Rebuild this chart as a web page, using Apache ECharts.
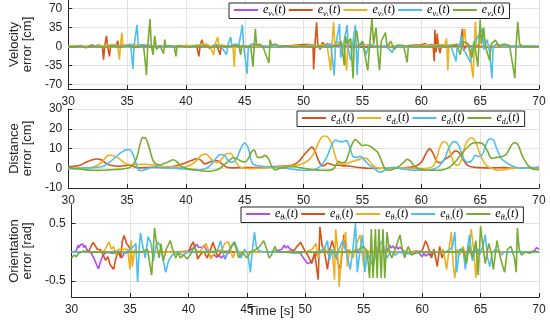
<!DOCTYPE html>
<html><head><meta charset="utf-8">
<script src="https://cdn.jsdelivr.net/npm/echarts@6/dist/echarts.min.js"></script>
<style>html,body{margin:0;padding:0;background:#fff}#c{width:550px;height:324px}</style>
</head><body><div id="c"></div>
<script>
// ---------- DATA ----------
const xTicks = [30, 35, 40, 45, 50, 55, 60, 65, 70];
const velTicks = [-70, -35, 0, 35, 70];
const distTicks = [-10, 0, 10, 20, 30];
const oriTicks = [-0.5, 0.5];

// Velocity error [cm] : [time, value]
const vel0 = [[30,0],[32,-0.5],[35,0.5],[38,0],[42,-0.5],[46,0.5],[50,0],[54,0.5],[58,-0.5],[62,0],[66,0.5],[70,0]];
const vel1 = [[30,0.5],[30.5,-1],[31,2],[31.5,-0.5],[32,3],[32.3,1],[32.6,3],[32.9,0],[33.0,-24],[33.1,2],[33.25,20],[33.35,0],[33.5,-18],[33.6,1],[33.9,3],[34.1,2],[34.2,11],[34.3,-2],[34.5,3],[35,2],[35.5,-1],[36,0.5],[36.5,1],[37,-0.5],[37.5,0],[38,1],[38.5,-0.5],[39,0],[39.5,1],[40,2],[40.5,1],[40.9,2],[41.1,-18],[41.2,0],[41.35,13],[41.5,2],[41.8,4],[42,-3],[42.3,2],[42.6,4],[42.9,-15],[43.0,2],[43.3,0],[43.6,1],[44,0.5],[45,0],[45.5,-1],[46,0.5],[47,-1],[48,0],[48.5,1],[49,2],[49.5,3],[50,4],[50.5,4],[50.8,3],[50.85,-42],[50.95,0],[51.1,45],[51.2,5],[51.4,-5],[51.6,8],[51.8,3],[52,5],[52.5,2],[53,3],[53.5,1],[54,0],[55,-1],[56,0],[57,0.5],[58,0],[59,2],[59.5,3],[60,3],[60.3,6],[60.5,2],[60.8,4],[61.0,3],[61.1,-27],[61.15,31],[61.25,-10],[61.35,24],[61.45,0],[61.6,-12],[61.7,2],[62,3],[62.5,2],[63,2],[63.3,4],[63.5,33],[63.6,-8],[63.8,2],[64,1],[64.5,0.5],[65,0],[66,-1],[67,0.5],[68,0],[69,-1],[70,0]];
const vel2 = [[30,1],[30.5,2],[31,0],[31.5,1],[32,0],[32.5,2],[33,1],[33.5,3],[34,4],[34.2,2],[34.35,-24],[34.45,5],[34.55,26],[34.65,2],[34.8,5],[35,3],[35.5,4],[36,2],[36.5,3],[37,2],[37.5,1],[38,2],[38.5,0],[39,1],[39.5,2],[40,1],[40.5,2],[41,3],[41.5,5],[41.8,4],[42,2],[42.35,-15],[42.45,2],[42.7,18],[42.8,2],[43,3],[43.5,1],[44.0,2],[44.1,-37],[44.2,0],[44.5,2],[45,1],[45.5,0],[46,1],[46.5,0],[47,1],[48,0],[49,1],[49.5,2],[50,1],[50.5,3],[51,2],[51.5,3],[52,2],[52.3,-44],[52.4,3],[52.55,45],[52.65,4],[52.9,10],[53.1,0],[53.4,5],[53.65,-44],[53.75,3],[54,6],[54.5,3],[55,5],[55.5,3],[56,2],[57,1],[58,0],[59,1],[60,2],[60.5,3],[61,2],[61.5,4],[62,3],[62.15,15],[62.25,-44],[62.35,2],[62.6,4],[63,3],[63.5,2],[63.7,33],[63.8,2],[64,5],[64.4,-57],[64.5,0],[64.6,46],[64.7,3],[65,2],[65.5,1],[66,0],[67,1],[68,0],[69,0.5],[70,0]];
const vel3 = [[30,-1],[30.5,0],[31,1],[31.5,-1],[32,0],[32.5,1],[33,-1],[33.5,0],[34,1],[34.5,0],[35,2],[35.3,5],[35.5,-41],[35.6,3],[35.85,40],[35.95,2],[36.2,4],[36.5,3],[37,1],[37.5,0],[38,1],[38.5,-1],[39,0],[39.5,1],[40,-1],[40.5,0],[41,1],[41.5,0],[42,-1],[42.5,2],[43,0],[43.45,-15],[43.55,2],[43.8,18],[43.9,2],[44.2,5],[44.5,3],[44.8,40],[44.9,2],[45.2,-50],[45.3,0],[45.6,5],[46,3],[46.5,1],[47,0],[47.5,-1],[48,0],[48.5,1],[49,0],[50,-1],[50.5,1],[51,0],[51.5,-2],[52,3],[52.3,5],[52.6,-53],[52.7,0],[53.05,42],[53.15,-20],[53.4,5],[53.7,40],[53.8,-5],[54,-25],[54.2,10],[54.4,40],[54.55,-52],[54.65,-5],[55,10],[55.3,-15],[55.6,5],[56,2],[56.5,0],[57,1],[57.55,-11],[57.7,1],[58,0],[58.5,-1],[59,0],[60,-1],[60.5,1],[61,0],[61.5,-1],[62,0],[62.5,2],[62.95,-27],[63.05,2],[63.3,5],[63.4,22],[63.5,0],[64.2,-30],[64.3,0],[64.6,10],[65.2,33],[65.3,-5],[65.6,13],[65.8,-10],[66.0,-58],[66.1,0],[66.4,5],[66.8,2],[67,0],[67.5,-1],[68,1],[68.5,0],[69,-1],[69.5,2],[70,0]];
const vel4 = [[30,1],[30.5,-1],[31,0.5],[31.5,-2],[32,1],[32.5,0],[33,-1],[33.5,1],[34,0],[34.5,-1],[35,1],[35.5,0],[36,-1],[36.4,2],[36.65,-52],[36.75,0],[36.95,51],[37.05,3],[37.2,-15],[37.35,20],[37.5,-5],[37.8,2],[38.1,-13],[38.2,13],[38.3,0],[38.6,2],[39.0,0],[39.15,-18],[39.25,2],[39.5,1],[40,-1],[40.5,0],[41,1],[41.5,0],[42,-1],[42.5,0],[43,1],[43.5,0],[44,1],[44.5,2],[44.65,-15],[44.75,2],[45.0,0],[45.5,1],[45.7,-37],[45.8,0],[45.9,33],[46.0,2],[46.3,5],[46.6,-3],[47.05,-30],[47.15,13],[47.3,2],[47.6,5],[48,0],[48.5,1],[49,-1],[49.5,0],[50,1],[50.5,-1],[51,0],[51.5,1],[52,-1],[52.5,0],[53,3],[53.2,10],[53.45,-34],[53.55,20],[53.7,5],[54.0,15],[54.2,-58],[54.3,5],[54.5,30],[54.7,0],[55.0,10],[55.45,-44],[55.6,0],[55.8,51],[55.95,5],[56.15,35],[56.3,-10],[56.45,-44],[56.6,10],[56.95,26],[57.1,0],[57.4,10],[57.7,-5],[58,3],[58.5,2],[58.8,-29],[58.9,2],[59.2,1],[59.5,0],[60,1],[60.5,-1],[61,0],[61.5,2],[62,-1],[62.5,0],[63,5],[63.3,-15],[63.5,10],[64,5],[64.3,-20],[64.5,10],[64.8,-37],[65.0,50],[65.1,5],[65.3,35],[65.45,0],[65.8,-25],[65.95,5],[66.3,12],[66.6,0],[67,5],[67.5,2],[67.95,-58],[68.05,0],[68.2,46],[68.35,5],[68.6,0],[69,1],[69.5,-1],[70,0]];

// Distance error [cm]
const dist1 = [[30,0.8],[30.5,1],[31,1.5],[31.5,3],[32,4.2],[32.4,4.7],[32.8,4.3],[33.2,2.5],[33.6,1.5],[34.2,1],[34.8,1.3],[35.2,1.5],[35.6,0.8],[36,0.2],[36.5,0.3],[37,0.5],[37.5,0.4],[38,0.3],[38.5,0.5],[39,1],[39.5,1.8],[40,2.8],[40.5,4],[40.9,4.8],[41.3,4],[41.6,2.2],[42,3],[42.4,3.8],[42.7,3.8],[43,2.5],[43.5,0.5],[44,0.2],[45,0.3],[46,0.3],[47,0.4],[47.5,0.8],[48,1],[48.5,1.2],[49,1.5],[49.5,3],[50,6.5],[50.3,8.5],[50.7,10.7],[51,8],[51.3,3.5],[51.6,1.2],[51.8,1.5],[52.0,2.5],[52.3,2.2],[52.6,1.5],[53,1.5],[53.5,1.2],[54,1],[54.5,0.5],[55,0.2],[55.5,0],[56,-0.1],[57,0],[58,0.2],[59,0.5],[59.5,1],[60,3],[60.4,7.5],[60.7,9.8],[61,7.5],[61.3,3.5],[61.6,2.8],[62,4.5],[62.5,6.5],[62.9,8.8],[63.2,8],[63.6,4],[64,1.2],[64.5,0.5],[65,0.3],[66,0.2],[67,0.3],[68,0],[69,0.3],[70,0.5]];
const dist2 = [[30,-0.3],[30.5,0],[31,0.2],[31.5,0],[32,0.5],[32.5,1.5],[33,4],[33.3,6.2],[33.6,6.6],[33.9,6.2],[34.3,5],[34.7,3],[35,2],[35.5,1.8],[36,1.9],[36.5,2],[37,1.8],[37.5,1.5],[38,1],[38.5,0.8],[39,0.6],[39.5,0.5],[40,0.8],[40.5,2],[41,4.5],[41.4,7],[41.7,7.2],[42,5.5],[42.4,3.5],[42.7,2.8],[43.1,5],[43.5,7.5],[43.8,7.5],[44.1,5],[44.5,1],[45,0],[45.5,-0.2],[46,0],[47,0.3],[48,0.8],[48.5,1],[49,1.3],[49.5,1.5],[50,2.5],[50.5,4.5],[50.9,8],[51.2,12],[51.5,15.5],[51.8,16.3],[52.1,15.5],[52.4,12],[52.7,6],[52.9,3],[53.3,2],[53.7,2.5],[54.2,3.5],[54.7,4.5],[55.1,5.2],[55.4,4.8],[55.8,2],[56.2,0.3],[56.8,0],[57.5,0],[58,0.2],[59,0],[60,-0.2],[60.5,0],[61,1],[61.3,5],[61.6,11],[61.9,13.4],[62.2,12.5],[62.5,7],[62.8,2.5],[63.1,1.5],[63.4,4],[63.7,11],[64.0,14.5],[64.3,15.3],[64.6,13.5],[65,7],[65.5,1.5],[66,0],[66.5,-1],[67,-0.8],[67.5,-0.2],[68,0],[69,0],[70,0]];
const dist3 = [[30,0],[30.5,-0.3],[31,0],[31.5,0.3],[32,0.2],[32.5,0.5],[33,1],[33.5,3],[34,5.5],[34.5,8],[34.9,9.3],[35.2,9.5],[35.5,7],[35.8,2],[36.1,-1.3],[36.5,-0.8],[37,0.3],[37.5,0.8],[38,0.3],[38.5,0],[39,0],[39.5,-0.3],[40,-0.5],[40.5,-0.8],[41,-1],[41.5,-0.5],[42,1],[42.5,4.5],[42.9,7],[43.2,6.8],[43.6,4],[43.9,3],[44.3,5],[44.7,10.5],[45.0,12.7],[45.3,10],[45.6,3],[45.9,1.5],[46.5,1],[47,0.8],[47.5,0.6],[48,0.3],[48.5,0],[49,-0.5],[49.5,-0.8],[50,-1],[50.5,-1],[51,-0.5],[51.5,1.5],[52,6],[52.4,12],[52.75,14.3],[53.0,13.5],[53.3,13.5],[53.6,14],[53.9,11],[54.2,6],[54.5,5.5],[54.8,6],[55.1,4.5],[55.5,2],[56,0],[56.5,-2],[56.9,-1],[57.3,0.3],[57.7,0.5],[58,0],[58.5,-0.5],[59,-0.8],[59.5,-1],[60,-1],[60.5,-1],[61,-0.5],[61.5,1],[62,5],[62.4,11],[62.8,13.5],[63.1,12.5],[63.4,8],[63.7,4],[64.0,3],[64.3,4],[64.6,6.5],[64.9,6],[65.2,7],[65.5,12],[65.8,14.8],[66.1,14.5],[66.4,10],[66.8,5],[67.2,3],[67.6,1.5],[68,0.5],[68.5,0],[69,0.3],[69.5,0.2],[70,0.5]];
const dist4 = [[30,0.5],[30.5,0],[31,-0.5],[31.5,-0.8],[32,-1],[32.5,-1.1],[33,-1],[33.5,-0.8],[34,-0.6],[34.5,-0.5],[35,0],[35.4,1],[35.8,5],[36.1,12],[36.35,15.5],[36.6,15],[36.9,10],[37.2,4],[37.5,2],[37.8,1.8],[38.2,2.5],[38.6,3.5],[38.9,4.3],[39.2,3.5],[39.6,1],[40,0],[40.5,-0.5],[41,-1],[41.5,-1.4],[42,-1.5],[42.5,-1],[42.9,0],[43.3,2],[43.7,4],[44.0,5.3],[44.3,5],[44.7,3.5],[45.0,3.2],[45.3,5],[45.6,8.5],[45.8,9.2],[46.1,5.5],[46.4,5.5],[46.7,6.5],[47.0,5],[47.3,1],[47.6,-0.8],[48,0],[48.5,0.5],[49,0.8],[49.5,0.5],[50,0],[50.5,-0.5],[51,-0.8],[51.5,-1],[52,-1.1],[52.5,-0.5],[52.8,2],[53.0,3.5],[53.2,2.8],[53.5,3],[53.8,7],[54.1,12],[54.4,14.5],[54.7,13],[55,11.5],[55.3,11.8],[55.7,11],[56.0,9.5],[56.3,8],[56.6,4],[56.9,0],[57.2,-1],[57.6,-0.5],[58,0.5],[58.5,3],[58.8,4.5],[59.1,3.5],[59.5,0.5],[60,-0.5],[60.5,-1],[61,-1],[61.5,-1],[62,-0.5],[62.5,1],[63,4],[63.5,8],[64,11],[64.4,12.8],[64.8,13],[65.2,12.5],[65.6,9],[66.0,5],[66.4,5.5],[66.8,5.8],[67.2,7],[67.6,11],[67.9,13],[68.2,12],[68.6,6],[69,2],[69.5,-0.5],[70,-0.7]];

// Orientation error [rad]
const ori0 = [[30,0],[30.4,0.02],[30.55,0.12],[30.65,0.08],[30.75,0.13],[30.85,0.1],[30.95,0.14],[31.05,0.08],[31.15,0.12],[31.3,0.05],[31.5,0],[31.7,-0.02],[31.9,-0.1],[32.1,-0.2],[32.3,-0.29],[32.5,-0.15],[32.7,-0.05],[33,0],[33.5,-0.02],[34,0],[34.3,-0.1],[34.5,-0.02],[35,0],[36,0],[37,0],[38,0],[39,0],[40,0.02],[40.5,0.08],[40.7,0.14],[40.85,0.09],[41.0,0.12],[41.2,0.08],[41.35,0.12],[41.5,0.05],[41.8,-0.05],[42.0,-0.08],[42.2,-0.04],[42.4,-0.09],[42.6,-0.05],[42.8,-0.1],[43.0,-0.06],[43.15,-0.12],[43.3,-0.03],[43.6,0],[44,0],[45,0],[46,0],[47,0],[47.5,0.02],[48,0.05],[48.2,0.12],[48.35,0.07],[48.5,0.11],[48.65,0.06],[48.8,0.09],[48.95,0.03],[49.2,0],[49.6,-0.02],[49.9,-0.12],[50.2,-0.2],[50.5,-0.17],[50.8,-0.08],[51.1,0],[52,0],[53,0],[54,0],[55,0],[56,0],[57,0.02],[57.2,0.12],[57.35,0.07],[57.5,0.11],[57.65,0.06],[57.8,0.1],[57.95,0.05],[58.1,0.09],[58.3,0.04],[58.6,0],[59,0],[59.5,0.02],[59.8,-0.03],[60.0,-0.08],[60.15,-0.02],[60.3,-0.07],[60.5,-0.03],[60.7,-0.06],[60.9,-0.02],[61.2,0],[61.5,0.01],[62,0],[63,0],[65,0],[67,0],[69,0],[69.6,0.02],[69.8,0.08],[70,0.05]];
const ori1 = [[30,0],[31,0],[31.5,0.02],[31.7,0.12],[31.85,0.17],[32.0,0.12],[32.2,0.05],[32.5,0.04],[32.7,-0.05],[32.9,-0.14],[33.1,-0.08],[33.3,-0.22],[33.6,-0.3],[33.8,-0.1],[34.0,0.02],[34.2,-0.1],[34.35,0.2],[34.5,0.29],[34.7,0.15],[34.9,0.1],[35.1,0],[36,0],[38,0],[39,0],[40,0],[40.2,0.1],[40.4,0.18],[40.6,0.05],[40.8,-0.12],[41.0,-0.05],[41.3,0.02],[41.6,-0.1],[41.9,0.05],[42.1,0.17],[42.3,0.05],[42.5,-0.08],[42.8,0],[43.5,0],[45,0],[47,0],[48,0],[49,0.02],[49.3,0.1],[49.6,0.17],[49.9,0.05],[50.2,-0.05],[50.55,-0.2],[50.8,0],[51.1,-0.48],[51.25,0.44],[51.45,0.1],[51.6,0.05],[51.9,-0.3],[52.1,0.05],[52.3,0.2],[52.5,0.05],[52.7,-0.1],[53.0,-0.3],[53.3,0.3],[53.5,0.05],[53.8,0],[54,0],[55,0],[57,0],[59,0],[60,0.02],[60.3,0.2],[60.5,0.1],[60.8,-0.1],[61.0,0.05],[61.3,-0.25],[61.5,0.1],[61.7,-0.1],[61.9,0],[62.3,0],[63,0],[64,0],[66,0],[68,0],[70,0]];
const ori2 = [[30,0],[32,0],[32.8,0.02],[33.0,0.1],[33.2,0.18],[33.4,0.05],[33.6,0.1],[33.8,-0.05],[34.0,0.05],[34.8,0.05],[35.0,-0.3],[35.1,0.2],[35.2,-0.25],[35.4,0.05],[35.6,0],[36,0],[38,0],[40,0],[41,0.02],[41.3,0.1],[41.5,0.15],[41.7,0.05],[41.9,-0.12],[42.1,-0.05],[42.4,0.02],[42.9,0.05],[43.1,0.15],[43.4,0.18],[43.6,0.05],[43.8,-0.1],[44.0,0],[45,0],[47,0],[50,0],[50.6,0.05],[50.9,0.15],[51.1,-0.1],[51.3,0],[51.6,0.1],[52.0,-0.05],[52.3,0.05],[52.5,-0.48],[52.6,0.4],[52.75,0.1],[52.9,-0.6],[53.1,0],[53.3,0.2],[53.45,0.35],[53.6,-0.25],[53.8,0.05],[54.1,-0.1],[54.4,0.15],[54.7,0.3],[54.85,0],[55.0,-0.25],[55.2,0.05],[55.5,0],[56,0],[58,0],[60,0],[61.5,0],[61.8,0.05],[62.1,-0.3],[62.3,0.05],[62.5,0.35],[62.65,-0.2],[62.8,-0.45],[63.0,0.05],[63.2,-0.05],[63.5,0.1],[63.8,-0.1],[64.0,0.05],[64.2,0.4],[64.4,0.05],[64.6,-0.45],[64.75,0.05],[65,0],[66,0],[68,0],[70,0]];
const ori3 = [[30,0],[31,0],[32,0],[33,0],[34,0.02],[34.5,-0.02],[35,0.05],[35.3,0.1],[35.5,0.15],[35.65,-0.52],[35.8,0.1],[35.9,0.33],[36.1,0.1],[36.3,-0.1],[36.55,0.27],[36.8,0.15],[37.0,-0.15],[37.2,0.1],[37.4,0.17],[37.6,0.1],[37.8,-0.1],[38.05,-0.35],[38.3,-0.15],[38.6,-0.05],[39,0],[39.5,-0.05],[40,0],[41,0],[42.4,0.02],[42.6,0.1],[42.75,0.2],[42.9,0.05],[43.1,-0.1],[43.4,0],[43.7,0.12],[43.95,0.18],[44.2,0.05],[44.5,-0.1],[44.8,0.05],[45.1,-0.05],[45.3,-0.35],[45.45,0],[45.65,0.35],[45.8,0.1],[46,0.03],[46.5,0],[47,0],[48,0.01],[49,-0.02],[50,0],[51,0],[51.6,0.05],[51.9,0.2],[52.05,-0.15],[52.3,0.05],[52.6,-0.1],[52.9,0.05],[53.2,0.2],[53.5,0],[53.85,-0.3],[54.1,0.1],[54.3,0.5],[54.45,-0.35],[54.7,0.05],[54.9,0.3],[55.1,-0.35],[55.3,0],[55.5,-0.1],[55.8,-0.25],[56.0,-0.05],[56.3,0.1],[56.6,0.2],[56.8,0],[57.0,-0.1],[57.3,0.02],[57.7,-0.05],[58,0],[59,-0.03],[60,0],[61,0],[62,0],[62.4,0.05],[62.6,0.1],[62.8,0.35],[62.95,-0.35],[63.2,0.05],[63.5,0.05],[63.7,-0.3],[63.9,0.1],[64.05,0.3],[64.3,-0.15],[64.6,0.1],[64.9,-0.05],[65.2,0.1],[65.4,0.3],[65.6,-0.1],[65.8,-0.25],[66.0,0],[66.3,0.05],[66.8,-0.05],[67,0],[68,0],[69,0],[70,0]];
const ori4 = [[30,-0.1],[30.2,-0.05],[30.4,-0.08],[30.6,-0.02],[30.8,0],[31,0.02],[31.5,0],[33,0],[35,0],[36,0],[36.5,0.05],[36.85,-0.4],[37.1,0.42],[37.3,0.1],[37.5,-0.1],[37.65,0.15],[37.85,-0.15],[38.1,0.05],[38.45,0.2],[38.65,0.05],[38.9,-0.1],[39.1,0],[39.3,-0.1],[39.6,-0.05],[39.9,-0.12],[40.2,-0.03],[40.5,0.1],[40.7,0],[41,0],[42,0],[43.5,0.02],[43.9,0.17],[44.1,0.05],[44.3,-0.1],[44.6,0],[45.0,-0.1],[45.3,0],[45.8,0.05],[46.1,0.1],[46.45,0.2],[46.7,0.05],[46.9,-0.1],[47.1,-0.05],[47.4,0.1],[47.6,0],[48,0],[50,0],[52,0],[53,0],[54,0],[54.6,0.05],[55.0,0.1],[55.3,0],[55.5,-0.45],[55.65,0.4],[55.8,-0.45],[56.0,0.4],[56.15,-0.45],[56.3,0.4],[56.5,-0.45],[56.65,0.4],[56.8,-0.45],[57.0,0.35],[57.2,0],[57.4,-0.1],[57.7,0.05],[58.1,0.3],[58.3,0.05],[58.5,-0.1],[58.8,0.1],[59.1,-0.05],[59.5,0],[60,0],[61,0],[62,0],[63,0],[63.5,0.05],[63.8,-0.2],[64.0,0.1],[64.3,-0.1],[64.6,0.2],[64.8,-0.4],[65.0,0.45],[65.2,0.1],[65.4,-0.2],[65.7,0.15],[65.9,0],[66.1,-0.3],[66.4,0.2],[66.7,-0.1],[67.05,-0.35],[67.3,0.05],[67.6,0.1],[67.9,-0.1],[68.05,-0.35],[68.15,0.42],[68.3,0.05],[68.5,-0.05],[68.8,0],[69.2,-0.02],[69.6,0.02],[70,0]];

const colors = ['#B04CF2', '#D95319', '#EDB120', '#4DBEEE', '#77AC30'];

// ---------- CHART ----------
const chart = echarts.init(document.getElementById('c'), null, {renderer: 'canvas'});
const TXT = '#262626';
const GRID = '#e2e2e2';
const FONT = 'Liberation Sans, Arial, sans-serif';
const SERIF = 'Liberation Serif, DejaVu Serif, serif';

function xAx(gi) {
  return {
    type: 'value', gridIndex: gi, min: 30, max: 70, interval: 5,
    axisLine: {show: true, onZero: false, lineStyle: {color: TXT, width: 1}},
    axisTick: {show: true, inside: true, length: 4, lineStyle: {color: TXT}},
    axisLabel: {color: TXT, fontSize: 12, fontFamily: FONT, margin: 7},
    splitLine: {show: true, lineStyle: {color: GRID, width: 1}}
  };
}
function yAx(gi, min, max, ticks, name) {
  return {
    type: 'value', gridIndex: gi, min: min, max: max,
    name: name, nameLocation: 'middle', nameRotate: 90, nameGap: 24,
    nameTextStyle: {color: TXT, fontSize: 13, fontFamily: FONT, lineHeight: 13},
    axisLine: {show: true, lineStyle: {color: TXT, width: 1}},
    axisTick: {show: true, inside: true, length: 4, lineStyle: {color: TXT}, customValues: ticks},
    axisLabel: {color: TXT, fontSize: 12, fontFamily: FONT, margin: 6, customValues: ticks},
    splitLine: {show: true, lineStyle: {color: GRID, width: 1}}
  };
}

const rich = {
  m: {fontFamily: SERIF, fontStyle: 'italic', fontSize: 12, lineHeight: 15, verticalAlign: 'middle', color: '#000'},
  p: {fontFamily: SERIF, fontSize: 12, lineHeight: 15, verticalAlign: 'middle', color: '#000'},
  s: {fontFamily: SERIF, fontStyle: 'italic', fontSize: 8, lineHeight: 9, verticalAlign: 'bottom', color: '#000'},
  ss: {fontFamily: SERIF, fontSize: 5, lineHeight: 4, verticalAlign: 'bottom', color: '#000'}
};
function lab(sym, idx) {
  return '{m|e}{s|' + sym + '}{ss|' + idx + '}{p|(}{m|t}{p|)}';
}
function legendCfg(names, symbol, left, top) {
  return {
    data: names, left: left, top: top, z: 20, width: 320,
    orient: 'horizontal', icon: 'rect', itemWidth: 24, itemHeight: 2, itemGap: 3,
    padding: [1, 5, 1, 5], selectedMode: false,
    backgroundColor: '#fff', borderColor: TXT, borderWidth: 1, borderRadius: 0,
    formatter: function (n) { return lab(symbol, n.slice(-1)); },
    textStyle: {rich: rich}
  };
}

const series = [];
function addLine(name, data, ci, xi, smooth) {
  series.push({
    name: name, type: 'line', data: data, xAxisIndex: xi, yAxisIndex: xi,
    showSymbol: false, symbol: 'none', smooth: smooth, animation: false,
    lineStyle: {color: colors[ci], width: 1.6}, itemStyle: {color: colors[ci]}
  });
}
[vel0, vel1, vel2, vel3, vel4].forEach((d, i) => addLine('v' + i, d, i, 0, false));
[dist1, dist2, dist3, dist4].forEach((d, i) => addLine('d' + (i + 1), d, i + 1, 1, 0.4));
[ori0, ori1, ori2, ori3, ori4].forEach((d, i) => addLine('o' + i, d, i, 2, false));

chart.setOption({
  animation: false,
  backgroundColor: '#fff',
  grid: [
    {left: 54, right: 11, top: 0, height: 89},
    {left: 54, right: 11, top: 109, height: 79},
    {left: 54, right: 11, top: 205, height: 92}
  ],
  xAxis: [xAx(0), xAx(1), xAx(2)],
  yAxis: [
    yAx(0, -78, 86, velTicks, 'Velocity\nerror [cm]'),
    yAx(1, -10, 30, distTicks, 'Distance\nerror [cm]'),
    yAx(2, -0.78, 0.82, oriTicks, 'Orientation\nerror [rad]')
  ],
  legend: [
    legendCfg(['v0', 'v1', 'v2', 'v3', 'v4'], 'v', 229, 3),
    legendCfg(['d1', 'd2', 'd3', 'd4'], 'd', 297, 111),
    legendCfg(['o0', 'o1', 'o2', 'o3', 'o4'], 'θ', 241, 207)
  ],
  graphic: [{
    type: 'text', left: 248, top: 305,
    style: {text: 'Time [s]', fill: TXT, font: '13px ' + FONT}
  }],
  series: series
});
</script></body></html>
